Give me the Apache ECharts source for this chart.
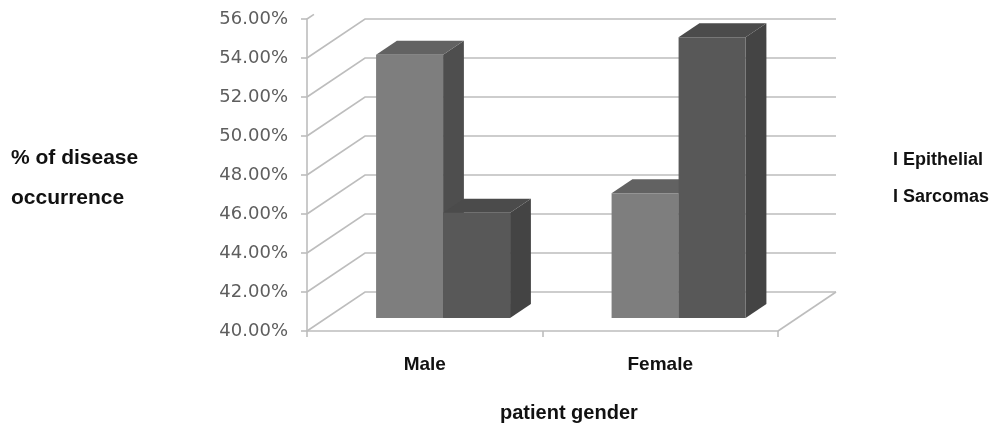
<!DOCTYPE html>
<html>
<head>
<meta charset="utf-8">
<script src="https://cdn.jsdelivr.net/npm/echarts@6/dist/echarts.min.js"></script>
<style>
  html, body { margin: 0; padding: 0; background: #fff; }
  #main { width: 994px; height: 425px; }
</style>
</head>
<body>
<div id="main"></div>
<script>
// data
const categories = ['Male', 'Female'];
const epithelial = [53.5, 46.4];
const sarcomas = [45.4, 54.4];
const yTicks = [40, 42, 44, 46, 48, 50, 52, 54, 56];

const Y_MIN = 40;
const Y_MAX = 56;

// fake 3d: depth vector of the whole floor, and where the bars sit in it
const DEPTH = [58, -39];
const F1 = 13 / 39;
const F2 = 27 / 39;
const BAR_FRAC = 0.2845;

const GRID_COLOR = '#bdbdbd';

function wallItem(params, api) {
	const cs = params.coordSys;
	const v = api.value(1);
	const y = api.coord([0, v])[1];
	const left = cs.x;
	const right = cs.x + cs.width;
	let pts;
	if (v === Y_MAX) {
		// image is cut at the top, only a little stub shows
		pts = [[left, y], [left + DEPTH[0] * 0.12, y + DEPTH[1] * 0.12]];
	} else {
		pts = [[left, y], [left + DEPTH[0], y + DEPTH[1]], [right + DEPTH[0], y + DEPTH[1]]];
	}
	const children = [{
		type: 'polyline',
		shape: { points: pts },
		style: { stroke: GRID_COLOR, lineWidth: 1.6, fill: null }
	}];
	if (v === Y_MIN) {
		children.push({
			type: 'polyline',
			shape: { points: [[right, y], [right + DEPTH[0], y + DEPTH[1]]] },
			style: { stroke: GRID_COLOR, lineWidth: 1.6, fill: null }
		});
	}
	return { type: 'group', children: children };
}

function barRenderer(slot, colors) {
	return function (params, api) {
		const ci = api.value(0);
		const v = api.value(1);
		const band = api.size([1, 0])[0];
		const w = band * BAR_FRAC;
		const base = api.coord([ci, Y_MIN]);
		const top = api.coord([ci, v]);
		const fx = DEPTH[0] * F1, fy = DEPTH[1] * F1;
		const dx = DEPTH[0] * (F2 - F1), dy = DEPTH[1] * (F2 - F1);
		const x0 = base[0] + fx + (slot - 1) * w - 1;
		const x1 = x0 + w;
		const yb = base[1] + fy;
		const yt = top[1] + fy;
		return {
			type: 'group',
			children: [
				{
					type: 'polygon',
					shape: { points: [[x1, yt], [x1 + dx, yt + dy], [x1 + dx, yb + dy], [x1, yb]] },
					style: { fill: colors.side }
				},
				{
					type: 'polygon',
					shape: { points: [[x0, yt], [x1, yt], [x1 + dx, yt + dy], [x0 + dx, yt + dy]] },
					style: { fill: colors.top }
				},
				{
					type: 'rect',
					shape: { x: x0, y: yt, width: w, height: yb - yt },
					style: { fill: colors.front }
				}
			]
		};
	};
}

const chart = echarts.init(document.getElementById('main'));

const option = {
	backgroundColor: '#fff',
	animation: false,
	grid: { left: 307, right: 216, top: 19, bottom: 94 },
	xAxis: {
		type: 'category',
		data: categories,
		axisLine: { lineStyle: { color: GRID_COLOR, width: 1.6 } },
		axisTick: { show: true, length: 6, lineStyle: { color: GRID_COLOR, width: 1.6 } },
		axisLabel: {
			margin: 24,
			color: '#111',
			fontFamily: 'Liberation Sans',
			fontWeight: 'bold',
			fontSize: 19
		},
		splitLine: { show: false }
	},
	yAxis: {
		type: 'value',
		min: Y_MIN,
		max: Y_MAX,
		interval: 2,
		axisLine: { show: true, lineStyle: { color: GRID_COLOR, width: 1.6 } },
		axisTick: { show: true, length: 6, lineStyle: { color: GRID_COLOR, width: 1.6 } },
		axisLabel: {
			margin: 19,
			color: '#5e5e5e',
			fontFamily: 'DejaVu Sans',
			fontSize: 18,
			formatter: (v) => v.toFixed(2) + '%'
		},
		splitLine: { show: false }
	},
	graphic: [
		{
			type: 'text', left: 11, top: 148,
			style: { text: '% of disease', font: 'bold 21px "Liberation Sans"', fill: '#111' }
		},
		{
			type: 'text', left: 11, top: 188,
			style: { text: 'occurrence', font: 'bold 21px "Liberation Sans"', fill: '#111' }
		},
		{
			type: 'text', left: 893, top: 151,
			style: { text: 'I Epithelial', font: 'bold 18px "Liberation Sans"', fill: '#111' }
		},
		{
			type: 'text', left: 893, top: 188,
			style: { text: 'I Sarcomas', font: 'bold 18px "Liberation Sans"', fill: '#111' }
		},
		{
			type: 'text', left: 500, top: 403,
			style: { text: 'patient gender', font: 'bold 20px "Liberation Sans"', fill: '#111' }
		}
	],
	series: [
		{
			type: 'custom',
			name: 'walls',
			silent: true,
			clip: false,
			data: yTicks.map((v) => [0, v]),
			renderItem: wallItem,
			z: 1
		},
		{
			type: 'custom',
			name: 'Epithelial',
			clip: false,
			data: epithelial.map((v, i) => [i, v]),
			renderItem: barRenderer(0, { front: '#7e7e7e', top: '#626262', side: '#4e4e4e' }),
			z: 2
		},
		{
			type: 'custom',
			name: 'Sarcomas',
			clip: false,
			data: sarcomas.map((v, i) => [i, v]),
			renderItem: barRenderer(1, { front: '#585858', top: '#4b4b4b', side: '#444444' }),
			z: 3
		}
	]
};

chart.setOption(option);
</script>
</body>
</html>
